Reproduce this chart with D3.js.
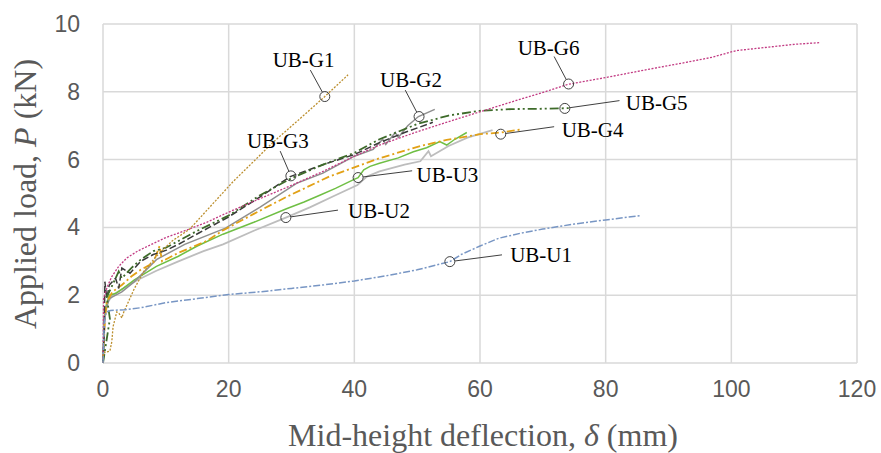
<!DOCTYPE html>
<meta charset="utf-8">
<style>
  body { margin: 0; background: #fff; }
  .grid line { stroke: #d9d9d9; stroke-width: 1.5px; }
  .tick-label { font-family: 'Liberation Sans', Arial, sans-serif; font-size: 23px; fill: #595959; }
  .axis-title { font-family: 'Liberation Serif', 'Times New Roman', serif; font-size: 32px; fill: #595959; }
  .note { font-family: 'Liberation Serif', 'Times New Roman', serif; font-size: 21px; fill: #000; }
  .curve { fill: none; }
</style>
<body>
<script src="https://d3js.org/d3.v7.min.js"></script>
<script>

// tick values
var xTicks = [0, 20, 40, 60, 80, 100, 120];
var yTicks = [0, 2, 4, 6, 8, 10];

// load-deflection curves, [deflection mm, load kN]
var ubU2 = [[0,0],[0.3,1.4],[0.8,1.8],[1.5,2.0],[3.2,2.2],[5.5,2.45],[8.5,2.72],[12,3.0],[16,3.3],[19.1,3.5],[24,3.9],[29.1,4.29],[33,4.6],[37,4.95],[40.5,5.25],[42,5.5],[44,5.65],[48,5.85],[50.5,5.95],[51.8,6.25],[52.2,6.1],[55,6.4],[58,6.65],[62,6.87]];
var ubU3 = [[0,0],[0.2,1.3],[0.5,1.7],[1,2.0],[2,2.05],[3.2,2.2],[5,2.45],[8.5,2.85],[12,3.15],[15,3.45],[19.1,3.8],[24,4.15],[29.2,4.55],[32,4.75],[34.5,4.95],[37,5.15],[39.8,5.4],[40.6,5.47],[41.5,5.7],[42.5,5.8],[44,5.89],[47,6.05],[49.4,6.23],[51.5,6.35],[53.6,6.53],[54.7,6.43],[56,6.6],[57.9,6.8]];
var ubG2 = [[0,0],[0.3,1.5],[1,1.9],[3,2.1],[5,2.4],[8.5,3.05],[13,3.5],[19.5,3.98],[25,4.6],[30.8,5.3],[35,5.6],[40,6.1],[43,6.3],[44.5,6.6],[45,6.45],[46.5,6.8],[47,6.65],[48.5,7.0],[50.2,7.27],[52.8,7.48]];
var ubG4 = [[0,0],[0.3,1.3],[0.6,1.8],[1.5,2.1],[3,2.3],[4.5,2.55],[6,2.75],[8,2.95],[9,3.45],[9.4,3.0],[12,3.25],[16.5,3.6],[19,3.9],[24,4.4],[29.2,4.9],[36,5.5],[44,6.04],[50.5,6.4],[54.7,6.58],[60,6.75],[63.3,6.8],[66.6,6.89]];
var ubG3 = [[0,0],[0.2,1.0],[0.3,2.4],[0.6,1.9],[1,2.3],[2,2.5],[2.5,2.2],[3,2.8],[4.3,2.65],[6,3.0],[8,3.2],[10.1,3.33],[12,3.5],[15.4,3.85],[19.9,4.3],[25,4.9],[29.8,5.5],[35,5.85],[40,6.15],[44,6.5],[48,6.8],[52.5,7.1]];
var ubG5 = [[0,0],[0.8,0.95],[1.1,1.3],[0.6,1.95],[1.5,2.3],[2.5,2.7],[3,2.5],[4.5,2.8],[6,3.05],[8,3.3],[10,3.4],[12,3.6],[15,3.9],[20,4.35],[25,4.95],[30,5.45],[35,5.85],[40,6.2],[44,6.6],[50,7.05],[55,7.3],[60,7.44],[65,7.49],[70,7.5],[74.5,7.52]];
var ubG6 = [[0,0],[0.1,1.9],[0.4,2.1],[0.8,2.3],[1.4,2.55],[2.5,2.85],[3.8,3.1],[5.5,3.3],[7.5,3.48],[10,3.7],[13.3,3.92],[16.5,4.15],[20,4.45],[25,4.85],[29.5,5.2],[35,5.65],[40,6.1],[44,6.43],[50,6.82],[55,7.12],[60,7.41],[65,7.7],[70,7.98],[74,8.22],[80,8.42],[87,8.67],[92,8.84],[97,9.02],[100,9.18],[101,9.22],[106,9.32],[110,9.4],[114,9.45]];
var ubG1 = [[0,0],[0.05,0.3],[1.1,0.35],[1.4,0.63],[1.6,1.07],[2.2,1.51],[2.6,1.45],[3,1.33],[3.3,1.5],[5,2.2],[6.5,2.7],[8.5,3.15],[11,3.6],[13.8,3.95],[17,4.6],[20.7,5.35],[24,5.95],[27,6.5],[31,7.15],[35.3,7.86],[39,8.5]];
var ubU1 = [[0,0],[0.2,1.2],[0.5,1.5],[1.2,1.55],[3.5,1.57],[6,1.63],[10,1.78],[15,1.9],[20,2.02],[25,2.1],[30,2.2],[35,2.3],[40,2.42],[45,2.57],[50,2.75],[55.2,2.99],[57,3.2],[60,3.45],[63,3.68],[66.5,3.83],[70,3.95],[75,4.1],[80,4.22],[85.7,4.35]];

// specimen names, marker point on the curve, label start (baseline) and leader end (data units)
var names   = ["UB-G1", "UB-G3", "UB-G2", "UB-G6", "UB-G5", "UB-G4", "UB-U3", "UB-U2", "UB-U1"];
var marks   = [[35.3,7.86],[29.9,5.52],[50.3,7.27],[74.1,8.23],[73.5,7.51],[63.3,6.75],[40.6,5.47],[29.1,4.29],[55.2,2.99]];
var labelAt = [[27.0,8.73],[22.9,6.34],[44.1,8.14],[66.0,9.09],[83.2,7.46],[73.0,6.67],[49.9,5.34],[39.0,4.28],[64.8,2.98]];
var leadEnd = [[33.0,8.64],[28.2,6.25],[48.1,8.05],[71.8,9.04],[82.2,7.74],[71.8,6.97],[49.2,5.67],[37.4,4.51],[63.5,3.19]];

var width = 881, height = 453;
var x = d3.scaleLinear().domain([0, 120]).range([103, 857]);
var y = d3.scaleLinear().domain([0, 10]).range([363, 24]);

var svg = d3.select("body").append("svg")
  .attr("width", width)
  .attr("height", height);

// gridlines
var grid = svg.append("g").attr("class", "grid");
grid.selectAll(".v").data(xTicks).join("line")
  .attr("x1", function (d) { return x(d); }).attr("x2", function (d) { return x(d); })
  .attr("y1", y(0)).attr("y2", y(10));
grid.selectAll(".h").data(yTicks).join("line")
  .attr("y1", function (d) { return y(d); }).attr("y2", function (d) { return y(d); })
  .attr("x1", x(0)).attr("x2", x(120));

// tick labels
svg.append("g").selectAll("text").data(xTicks).join("text")
  .attr("class", "tick-label")
  .attr("x", function (d) { return x(d); })
  .attr("y", 397)
  .attr("text-anchor", "middle")
  .text(function (d) { return d; });
svg.append("g").selectAll("text").data(yTicks).join("text")
  .attr("class", "tick-label")
  .attr("x", 80)
  .attr("y", function (d) { return y(d) + 8; })
  .attr("text-anchor", "end")
  .text(function (d) { return d; });

// axis titles
var xt = svg.append("text").attr("class", "axis-title")
  .attr("x", 483).attr("y", 446).attr("text-anchor", "middle");
xt.append("tspan").text("Mid-height deflection, ");
xt.append("tspan").attr("font-style", "italic").text("δ");
xt.append("tspan").text(" (mm)");

var yt = svg.append("text").attr("class", "axis-title")
  .attr("transform", "translate(36,194) rotate(-90)")
  .attr("text-anchor", "middle");
yt.append("tspan").text("Applied load, ");
yt.append("tspan").attr("font-style", "italic").text("P");
yt.append("tspan").text(" (kN)");

// curves
var line = d3.line()
  .x(function (d) { return x(d[0]); })
  .y(function (d) { return y(d[1]); });

function curve(data, color, w, dash) {
  svg.append("path")
    .datum(data)
    .attr("class", "curve")
    .attr("stroke", color)
    .attr("stroke-width", w)
    .attr("stroke-dasharray", dash)
    .attr("d", line);
}

curve(ubU2, "#bdbdbd", 1.8, null);
curve(ubU3, "#6fbf44", 1.5, null);
curve(ubG2, "#8f8f8f", 1.5, null);
curve(ubG4, "#e2a116", 1.8, "8,3,2,3");
curve(ubG3, "#3a3a3a", 1.5, "7,3");
curve(ubG5, "#3e6b2a", 1.8, "9,3,2,3,2,3");
curve(ubG6, "#c23b83", 1.3, "2,1.5");
curve(ubG1, "#bc8f2e", 1.3, "2,1.5");
curve(ubU1, "#7896c4", 1.5, "7,2,2,2");

// labels with leader lines and markers
var notes = svg.append("g");
names.forEach(function (n, i) {
  var p = marks[i], e = leadEnd[i], l = labelAt[i];
  var px = x(p[0]), py = y(p[1]), ex = x(e[0]), ey = y(e[1]);
  var a = Math.atan2(ey - py, ex - px);
  notes.append("line")
    .attr("x1", px + 5 * Math.cos(a)).attr("y1", py + 5 * Math.sin(a))
    .attr("x2", ex).attr("y2", ey)
    .attr("stroke", "#404040").attr("stroke-width", 1);
  notes.append("circle")
    .attr("cx", px).attr("cy", py).attr("r", 5)
    .attr("fill", "none").attr("stroke", "#404040").attr("stroke-width", 1);
  notes.append("text")
    .attr("class", "note")
    .attr("x", x(l[0])).attr("y", y(l[1]))
    .text(n);
});

</script>
</body>
